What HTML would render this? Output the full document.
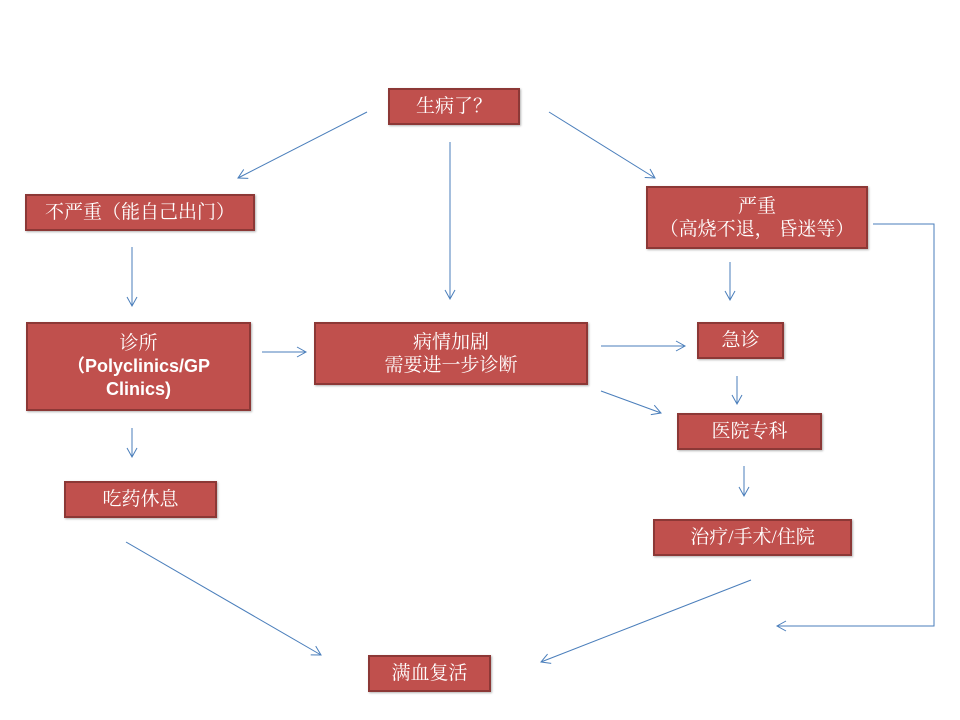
<!DOCTYPE html>
<html><head><meta charset="utf-8"><style>
html,body{margin:0;padding:0;background:#fff;}
body{width:960px;height:720px;position:relative;overflow:hidden;font-family:"Liberation Serif","Noto Serif CJK SC",serif;}
.b{position:absolute;box-sizing:border-box;background:#c0504d;border:2px solid #8c3836;color:#fff;font-size:19px;line-height:23px;text-align:center;display:flex;align-items:center;justify-content:center;flex-direction:column;box-shadow:1px 1px 2px rgba(0,0,0,0.3);}
.s{font-family:"Liberation Sans","Noto Sans CJK SC",sans-serif;font-weight:bold;font-size:18px;}
svg{position:absolute;left:0;top:0;}
</style></head><body>
<svg width="960" height="720" viewBox="0 0 960 720">
<defs><marker id="a" markerWidth="12" markerHeight="12" refX="10" refY="6" orient="auto" markerUnits="userSpaceOnUse"><path d="M1,1 L10,6 L1,11" fill="none" stroke="#4a7ebb" stroke-width="1"/></marker></defs>
<g stroke="#4a7ebb" stroke-width="1" fill="none" marker-end="url(#a)">
<line x1="367" y1="112" x2="238" y2="178"/>
<line x1="450" y1="142" x2="450" y2="299"/>
<line x1="549" y1="112" x2="655" y2="178"/>
<line x1="132" y1="247" x2="132" y2="306"/>
<line x1="132" y1="428" x2="132" y2="457"/>
<line x1="262" y1="352" x2="306" y2="352"/>
<line x1="601" y1="346" x2="685" y2="346"/>
<line x1="601" y1="391" x2="661" y2="413"/>
<line x1="730" y1="262" x2="730" y2="300"/>
<line x1="737" y1="376" x2="737" y2="404"/>
<line x1="744" y1="466" x2="744" y2="496"/>
<line x1="126" y1="542" x2="321" y2="655"/>
<line x1="751" y1="580" x2="541" y2="662"/>
<polyline points="873,224 934,224 934,626 777,626"/>
</g></svg>
<div class="b" style="left:388px;top:88px;width:132px;height:37px;">生病了？</div>
<div class="b" style="left:25px;top:194px;width:230px;height:37px;">不严重（能自己出门）</div>
<div class="b" style="left:646px;top:186px;width:222px;height:63px;"><div>严重</div><div>（高烧不退， 昏迷等）</div></div>
<div class="b" style="left:26px;top:322px;width:225px;height:89px;"><div>诊所</div><div class="s">（Polyclinics/GP</div><div class="s">Clinics)</div></div>
<div class="b" style="left:314px;top:322px;width:274px;height:63px;"><div>病情加剧</div><div>需要进一步诊断</div></div>
<div class="b" style="left:697px;top:322px;width:87px;height:37px;">急诊</div>
<div class="b" style="left:677px;top:413px;width:145px;height:37px;">医院专科</div>
<div class="b" style="left:64px;top:481px;width:153px;height:37px;">吃药休息</div>
<div class="b" style="left:653px;top:519px;width:199px;height:37px;">治疗/手术/住院</div>
<div class="b" style="left:368px;top:655px;width:123px;height:37px;">满血复活</div>
</body></html>
